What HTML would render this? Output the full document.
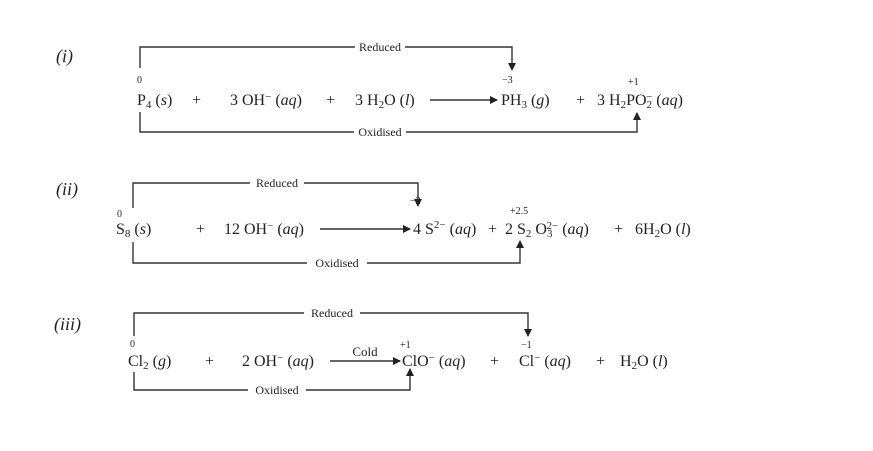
<!DOCTYPE html>
<html><head><meta charset="utf-8"><style>
html,body{margin:0;padding:0;background:#fff;}
svg{display:block;font-family:"Liberation Serif",serif;}
</style></head><body>
<svg width="873" height="451" viewBox="0 0 873 451" xmlns="http://www.w3.org/2000/svg">
<defs>
<marker id="ah" markerWidth="8" markerHeight="8" refX="7" refY="4" orient="auto" markerUnits="userSpaceOnUse">
<path d="M0,0 L8,4 L0,8 z" fill="#222"/></marker>
</defs>
<g stroke="#333" stroke-width="1.4" fill="none">
<polyline points="140,68 140,47 512,47 512,70" marker-end="url(#ah)"/>
<polyline points="140,112 140,132 637,132 637,113" marker-end="url(#ah)"/>
<line x1="430" y1="100" x2="497" y2="100" marker-end="url(#ah)"/>
<polyline points="133,208 133,183 418,183 418,206" marker-end="url(#ah)"/>
<polyline points="133,242 133,263 520,263 520,241" marker-end="url(#ah)"/>
<line x1="320" y1="229" x2="410" y2="229" marker-end="url(#ah)"/>
<polyline points="134,336 134,313 528,313 528,336" marker-end="url(#ah)"/>
<polyline points="134,372 134,390 410,390 410,369" marker-end="url(#ah)"/>
<line x1="330" y1="361" x2="400" y2="361" marker-end="url(#ah)"/>
</g>
<g fill="#fff">
<rect x="355" y="40" width="50" height="14"/>
<rect x="354" y="125" width="52" height="14"/>
<rect x="250" y="176" width="54" height="14"/>
<rect x="307" y="256" width="60" height="14"/>
<rect x="304" y="306" width="56" height="14"/>
<rect x="248" y="383" width="58" height="14"/>
</g>
<g fill="#222" font-size="12">
<text x="380" y="51" text-anchor="middle">Reduced</text>
<text x="380" y="136" text-anchor="middle">Oxidised</text>
<text x="277" y="187" text-anchor="middle">Reduced</text>
<text x="337" y="267" text-anchor="middle">Oxidised</text>
<text x="332" y="317" text-anchor="middle">Reduced</text>
<text x="277" y="394" text-anchor="middle">Oxidised</text>
<text x="365" y="356" text-anchor="middle" font-size="13">Cold</text>
<text x="137" y="83" font-size="10">0</text>
<text x="502" y="83" font-size="10">−3</text>
<text x="628" y="85" font-size="10">+1</text>
<text x="117" y="217" font-size="10">0</text>
<text x="410" y="204" font-size="10">−2</text>
<text x="510" y="214" font-size="10">+2.5</text>
<text x="130" y="347" font-size="10">0</text>
<text x="400" y="348" font-size="10">+1</text>
<text x="521" y="348" font-size="10">−1</text>
</g>
<g fill="#222" font-size="18" font-style="italic">
<text x="56" y="62">(i)</text>
<text x="56" y="195">(ii)</text>
<text x="54" y="330">(iii)</text>
</g>
<g fill="#222" font-size="16">
<text x="137" y="105">P<tspan font-size="11" dy="3">4</tspan><tspan dy="-3"> (<tspan font-style="italic">s</tspan>)</tspan></text>
<text x="192" y="105">+</text>
<text x="230" y="105">3 OH<tspan font-size="11" dy="-5">−</tspan><tspan dy="5"> (<tspan font-style="italic">aq</tspan>)</tspan></text>
<text x="326" y="105">+</text>
<text x="355" y="105">3 H<tspan font-size="11" dy="3">2</tspan><tspan dy="-3">O (<tspan font-style="italic">l</tspan>)</tspan></text>
<text x="501" y="105">PH<tspan font-size="11" dy="3">3</tspan><tspan dy="-3"> (<tspan font-style="italic">g</tspan>)</tspan></text>
<text x="576" y="105">+</text>
<text x="597" y="105">3 H<tspan font-size="11" dy="3">2</tspan><tspan dy="-3">PO</tspan><tspan font-size="11" dy="3">2</tspan><tspan font-size="11" dy="-8" dx="-6">−</tspan><tspan dy="5"> (<tspan font-style="italic">aq</tspan>)</tspan></text>

<text x="116" y="234">S<tspan font-size="11" dy="3">8</tspan><tspan dy="-3"> (<tspan font-style="italic">s</tspan>)</tspan></text>
<text x="196" y="234">+</text>
<text x="224" y="234">12 OH<tspan font-size="11" dy="-5">−</tspan><tspan dy="5"> (<tspan font-style="italic">aq</tspan>)</tspan></text>
<text x="413" y="234">4 S<tspan font-size="11" dy="-6">2−</tspan><tspan dy="6"> (<tspan font-style="italic">aq</tspan>)</tspan></text>
<text x="488" y="234">+</text>
<text x="505" y="234">2 S<tspan font-size="11" dy="3">2</tspan><tspan dy="-3"> O</tspan><tspan font-size="11" dy="3">3</tspan><tspan font-size="11" dy="-8" dx="-6">2−</tspan><tspan dy="5"> (<tspan font-style="italic">aq</tspan>)</tspan></text>
<text x="614" y="234">+</text>
<text x="635" y="234">6H<tspan font-size="11" dy="3">2</tspan><tspan dy="-3">O (<tspan font-style="italic">l</tspan>)</tspan></text>

<text x="128" y="366">Cl<tspan font-size="11" dy="3">2</tspan><tspan dy="-3"> (<tspan font-style="italic">g</tspan>)</tspan></text>
<text x="205" y="366">+</text>
<text x="242" y="366">2 OH<tspan font-size="11" dy="-5">−</tspan><tspan dy="5"> (<tspan font-style="italic">aq</tspan>)</tspan></text>
<text x="402" y="366">ClO<tspan font-size="11" dy="-5">−</tspan><tspan dy="5"> (<tspan font-style="italic">aq</tspan>)</tspan></text>
<text x="490" y="366">+</text>
<text x="519" y="366">Cl<tspan font-size="11" dy="-5">−</tspan><tspan dy="5"> (<tspan font-style="italic">aq</tspan>)</tspan></text>
<text x="596" y="366">+</text>
<text x="620" y="366">H<tspan font-size="11" dy="3">2</tspan><tspan dy="-3">O (<tspan font-style="italic">l</tspan>)</tspan></text>
</g>
</svg>
</body></html>
